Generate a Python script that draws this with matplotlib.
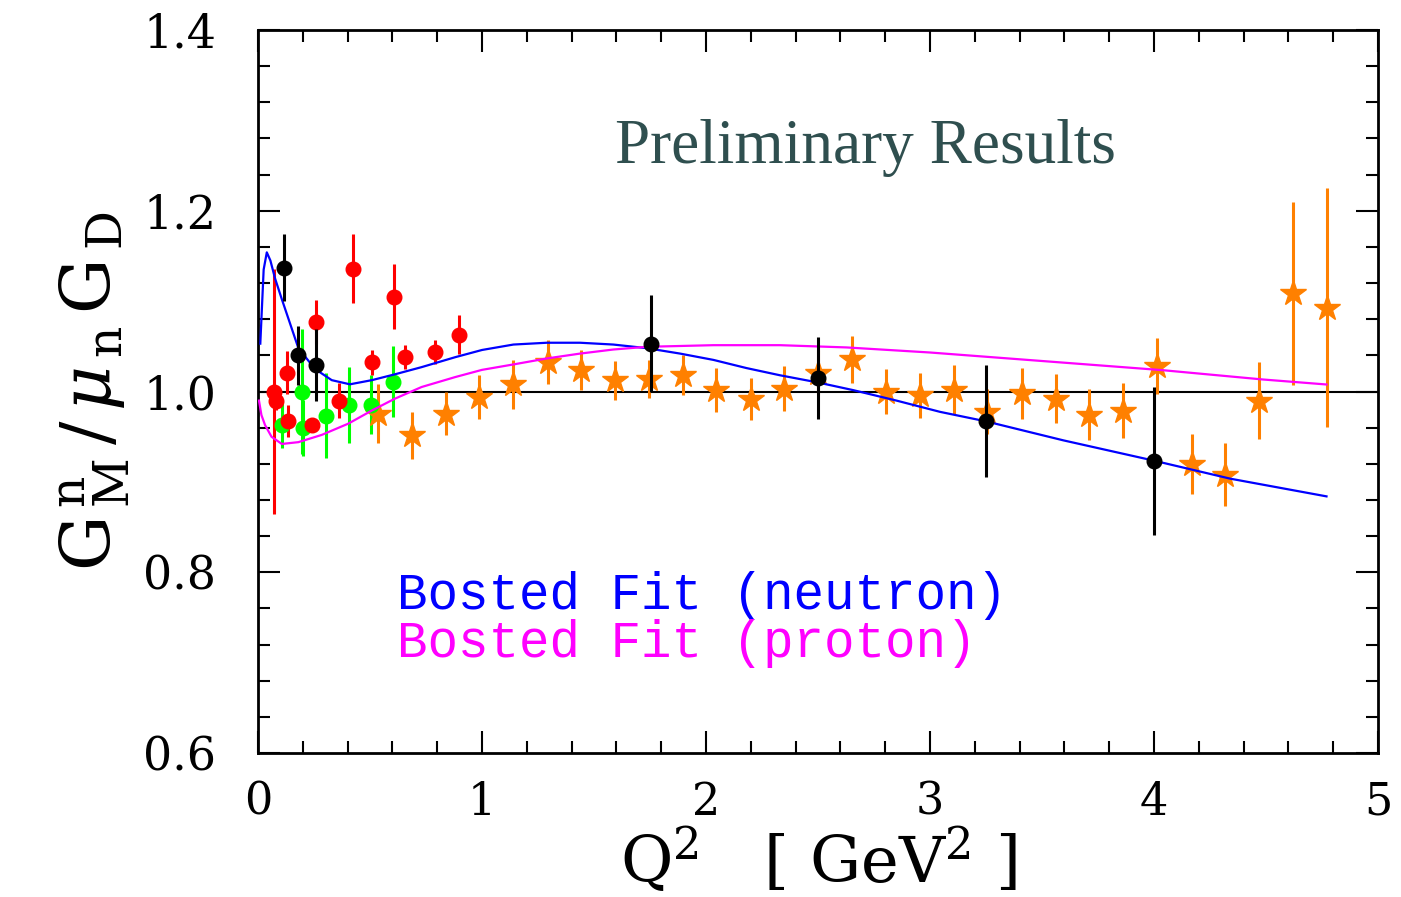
import matplotlib
matplotlib.use("Agg")
import matplotlib.pyplot as plt
from matplotlib.ticker import MultipleLocator

plt.rcParams['font.family'] = ['DejaVu Serif']
plt.rcParams['mathtext.fontset'] = 'dejavuserif'

# black points
blk_q2 = [0.116, 0.18, 0.26, 1.753, 2.50, 3.25, 4.0]
blk_g = [1.137, 1.040, 1.029, 1.053, 1.015, 0.967, 0.9235]
blk_err = [0.037, 0.033, 0.040, 0.054, 0.045, 0.062, 0.082]

# red points
red_q2 = [0.073, 0.079, 0.131, 0.135, 0.243, 0.26, 0.363, 0.423, 0.51, 0.609, 0.656, 0.79, 0.897]
red_g = [1.0, 0.990, 1.021, 0.9675, 0.963, 1.077, 0.990, 1.136, 1.0325, 1.105, 1.038, 1.0435, 1.063]
red_err = [0.136, 0.010, 0.024, 0.018, 0.008, 0.024, 0.019, 0.038, 0.014, 0.036, 0.013, 0.013, 0.022]

# green points
grn_q2 = [0.106, 0.195, 0.20, 0.305, 0.408, 0.504, 0.604]
grn_g = [0.963, 1.0, 0.960, 0.973, 0.985, 0.9856, 1.011]
grn_err = [0.026, 0.069, 0.031, 0.047, 0.042, 0.033, 0.039]

# orange stars
org_q2 = [0.537, 0.686, 0.838, 0.987, 1.14, 1.293, 1.442, 1.594, 1.746, 1.896,
          2.046, 2.20, 2.35, 2.50, 2.653, 2.804, 2.955, 3.107, 3.256, 3.409,
          3.561, 3.711, 3.863, 4.015, 4.168, 4.317, 4.47, 4.619, 4.77]
org_g = [0.9756, 0.9516, 0.9756, 0.994, 1.008, 1.033, 1.024, 1.0125, 1.0144, 1.018,
         1.0015, 0.992, 1.003, 1.021, 1.0355, 1.0, 0.996, 1.002, 0.9775, 0.998,
         0.992, 0.9745, 0.979, 1.0285, 0.9195, 0.908, 0.990, 1.1086, 1.0927]
org_err = [0.033, 0.026, 0.024, 0.024, 0.027, 0.0245, 0.022, 0.0215, 0.021, 0.022,
           0.024, 0.023, 0.025, 0.025, 0.026, 0.025, 0.025, 0.027, 0.025, 0.028,
           0.027, 0.028, 0.030, 0.031, 0.033, 0.035, 0.043, 0.101, 0.132]

# Bosted fit curves
fit_n_q2 = [0.01, 0.025, 0.039, 0.055, 0.076, 0.105, 0.135, 0.18, 0.254, 0.329, 0.41,
            0.508, 0.61, 0.73, 0.88, 1.0, 1.14, 1.289, 1.4375, 1.586, 1.735, 1.884,
            2.033, 2.18, 2.33, 2.50, 2.658, 2.85, 3.045, 3.25, 3.595, 4.0, 4.34, 4.77]
fit_n_g = [1.053, 1.135, 1.154, 1.145, 1.125, 1.103, 1.081, 1.048, 1.025, 1.0126, 1.008,
           1.0126, 1.019, 1.027, 1.038, 1.046, 1.052, 1.054, 1.054, 1.052, 1.048, 1.042,
           1.035, 1.026, 1.018, 1.010, 1.0015, 0.990, 0.9775, 0.967, 0.946, 0.9235, 0.9036, 0.884]

fit_p_q2 = [0.004, 0.015, 0.031, 0.06, 0.106, 0.18, 0.284, 0.403, 0.508, 0.61, 0.73,
            0.88, 1.0, 1.14, 1.289, 1.4375, 1.586, 1.735, 2.033, 2.33, 2.628, 3.0,
            3.595, 4.04, 4.488, 4.77]
fit_p_g = [0.990, 0.974, 0.963, 0.950, 0.942, 0.944, 0.952, 0.9645, 0.979, 0.992, 1.005,
           1.016, 1.024, 1.030, 1.0366, 1.042, 1.0465, 1.0495, 1.0513, 1.0513, 1.0488, 1.0432,
           1.032, 1.0236, 1.0133, 1.0078]

fig = plt.figure(figsize=(14.01, 8.97), dpi=100)
ax = fig.add_axes([0.1842, 0.1605, 0.7994, 0.8060])

ax.axhline(1.0, color='black', lw=1.5, zorder=1)
ax.plot(fit_n_q2, fit_n_g, color='#0000ff', lw=1.6, zorder=4)
ax.plot(fit_p_q2, fit_p_g, color='#ff00ff', lw=1.6, zorder=4)

ax.errorbar(org_q2, org_g, yerr=org_err, fmt='*', color='#ff8000', ms=19,
            elinewidth=2.2, capsize=0, zorder=3)
ax.errorbar(grn_q2, grn_g, yerr=grn_err, fmt='o', color='#00ff00', ms=10.5,
            elinewidth=2.2, capsize=0, zorder=3)
ax.errorbar(red_q2, red_g, yerr=red_err, fmt='o', color='#ff0000', ms=10.5,
            elinewidth=2.2, capsize=0, zorder=3)
ax.errorbar(blk_q2, blk_g, yerr=blk_err, fmt='o', color='black', ms=10.5,
            elinewidth=2.2, capsize=0, zorder=5)

ax.set_xlim(0, 5)
ax.set_ylim(0.6, 1.4)
ax.xaxis.set_major_locator(MultipleLocator(1))
ax.xaxis.set_minor_locator(MultipleLocator(0.2))
ax.yaxis.set_major_locator(MultipleLocator(0.2))
ax.yaxis.set_minor_locator(MultipleLocator(0.04))
ax.set_yticks([0.6, 0.8, 1.0, 1.2, 1.4])
ax.set_yticklabels(['0.6', '0.8', '1.0', '1.2', '1.4'])
ax.tick_params(which='both', direction='in', top=True, right=True, width=1.5)
ax.tick_params(which='major', length=16)
ax.tick_params(which='minor', length=8.5)
ax.tick_params(axis='y', pad=30, labelsize=33)
ax.tick_params(axis='x', pad=20, labelsize=32)
for s in ax.spines.values():
    s.set_linewidth(2)

ax.set_xlabel(r'Q$^2$   [ GeV$^2$ ]', fontsize=46, labelpad=2)
ax.set_ylabel(r'$\mathrm{G}^{\,\mathrm{n}}_{\,\mathrm{M}}\,/\,\mu_{\,\mathrm{n}}\,\mathrm{G}_{\,\mathrm{D}}$',
              fontsize=50, labelpad=8)

ax.text(2.71, 1.27, 'Preliminary Results', fontsize=45.5, color='#2f4f4f',
        family='Liberation Serif', ha='center', va='center')
ax.text(0.62, 0.774, 'Bosted Fit (neutron)', fontsize=36.6, color='#0000ff',
        family='Liberation Mono', ha='left', va='center')
ax.text(0.62, 0.721, 'Bosted Fit (proton)', fontsize=36.6, color='#ff00ff',
        family='Liberation Mono', ha='left', va='center')

fig.savefig('out.png', dpi=100)
